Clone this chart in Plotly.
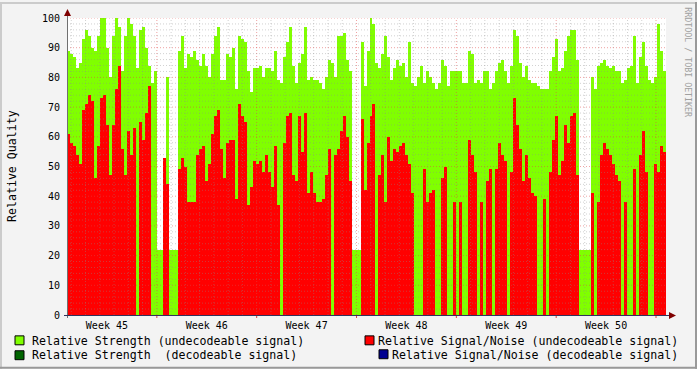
import plotly.graph_objects as go

# ---- data (one sample every 5.04 h, starting at day 0) ----
sample_step_days = 0.21
strength_undec = [
    89, 88, 87, 83, 85, 93, 96, 94, 90, 89,
    94, 100, 100, 90, 80, 94, 100, 97, 82, 94,
    100, 98, 94, 83, 96, 97, 90, 84, 78, 82,
    22, 22, 45,
    80, 22, 22, 22, 89, 94, 83, 88, 87, 89,
    86, 84, 88, 84, 80, 88, 94, 97, 79, 79,
    88, 87, 90, 76, 94, 93, 92, 82, 75, 83,
    83, 84, 80,
    83, 83, 82, 89, 79, 78, 87, 92, 97, 84,
    78, 85, 88, 97, 79, 80, 79, 79, 78, 76,
    80, 86, 85, 80, 94, 94, 95, 86, 82, 22,
    22, 22, 92,
    77, 89, 100, 98, 85, 83, 88, 94, 87, 79,
    83, 86, 84, 85, 80, 92, 78, 77, 80, 84,
    78, 82, 80, 78, 76, 78, 86, 84, 77, 82,
    82, 82, 82,
    78, 78, 89, 88, 78, 79, 78, 82, 82, 76,
    78, 82, 85, 86, 82, 78, 84, 96, 94, 85,
    80, 84, 79, 78, 78, 77, 76, 76, 76, 82,
    87, 93, 82, 83,
    89, 94, 96, 96, 86, 22, 22, 22, 22, 80,
    76, 84, 85, 86, 84, 83, 84, 82, 82, 78,
    79, 83, 84, 94, 78, 87, 92, 84, 79, 78,
    80, 98, 89, 82,
]
snr_undec = [
    61, 58, 57, 54, 51, 69, 71, 74, 72, 46,
    57, 73, 74, 64, 47, 64, 76, 84, 56, 47,
    62, 54, 63, 0, 65, 59, 68, 77, 0, 0,
    0, 0, 53,
    44, 0, 0, 0, 49, 53, 50, 38, 38, 38,
    54, 56, 57, 45, 51, 61, 67, 69, 56, 46,
    58, 59, 59, 39, 71, 67, 65, 37, 43, 52,
    51, 52, 48,
    54, 48, 43, 57, 37, 0, 58, 67, 68, 47,
    45, 67, 55, 68, 41, 48, 41, 38, 38, 39,
    47, 56, 0, 54, 56, 62, 67, 60, 45, 0,
    0, 0, 66,
    42, 58, 67, 71, 0, 47, 54, 38, 60, 52,
    56, 55, 57, 58, 54, 51, 41, 0, 0, 0,
    49, 38, 41, 42, 0, 0, 46, 50, 0, 0,
    38, 0, 38,
    0, 0, 59, 54, 48, 0, 38, 0, 45, 49,
    0, 49, 58, 54, 52, 0, 48, 73, 64, 56,
    45, 54, 46, 41, 40, 0, 0, 39, 0, 48,
    59, 67, 47, 52,
    64, 58, 67, 68, 47, 0, 0, 0, 0, 41,
    0, 38, 54, 58, 56, 54, 51, 47, 45, 0,
    38, 0, 0, 49, 0, 54, 62, 48, 0, 0,
    51, 48, 57, 55,
]
week_labels = ["Week 45", "Week 46", "Week 47", "Week 48", "Week 49", "Week 50"]
week_label_days = [2.8, 9.8, 16.8, 23.8, 30.8, 37.8]
first_day_line = 0.3
n_days = 42
legend_items = [
    ("Relative Strength (undecodeable signal)", "#80ff00"),
    ("Relative Signal/Noise (undecodeable signal)", "#ff0000"),
    ("Relative Strength  (decodeable signal)", "#006400"),
    ("Relative Signal/Noise (decodeable signal)", "#000090"),
]

W, H = 697, 369
L, R, T, B = 67, 31, 16, 54
PW, PH = W - L - R, H - T - B


def px(x):
    return (x - L) / PW


def py(y):
    return (H - B - y) / PH


times = [(i + 0.5) * sample_step_days for i in range(len(strength_undec))]

fig = go.Figure()
fig.add_trace(go.Bar(x=times, y=strength_undec, width=sample_step_days,
                     marker=dict(color="#80ff00", line=dict(width=0)),
                     showlegend=False, hoverinfo="skip"))
fig.add_trace(go.Bar(x=times, y=snr_undec, width=sample_step_days,
                     marker=dict(color="#ff0000", line=dict(width=0)),
                     showlegend=False, hoverinfo="skip"))

shapes = []
# vertical grid (days, weeks major)
for k in range(n_days):
    d = first_day_line + k
    major = (k - 6) % 7 == 0
    shapes.append(dict(type="line", xref="x", yref="y", x0=d, x1=d, y0=0, y1=100,
                       layer="above",
                       line=dict(color="rgba(225,70,70,0.5)" if major else "rgba(140,140,140,0.4)",
                                 width=1, dash="1px,2px")))
    if major:
        shapes.append(dict(type="line", xref="x", yref="paper", x0=d, x1=d,
                           y0=py(315), y1=py(318), line=dict(color="#d04040", width=1)))
# horizontal grid
for v in range(2, 101, 2):
    major = v % 10 == 0
    shapes.append(dict(type="line", xref="paper", yref="y", x0=0, x1=1, y0=v, y1=v,
                       layer="above",
                       line=dict(color="rgba(225,70,70,0.5)" if major else "rgba(140,140,140,0.4)",
                                 width=1, dash="1px,2px")))
# axes lines and arrows
shapes.append(dict(type="line", xref="paper", yref="paper", x0=px(67.5), x1=px(67.5),
                   y0=py(318), y1=py(12), line=dict(color="#707070", width=1)))
shapes.append(dict(type="line", xref="paper", yref="paper", x0=px(64), x1=px(670),
                   y0=py(315.5), y1=py(315.5), line=dict(color="#30305a", width=1)))
shapes.append(dict(type="path", xref="paper", yref="paper",
                   path=f"M {px(64)} {py(14)} L {px(71)} {py(14)} L {px(67.5)} {py(7)} Z",
                   fillcolor="#7f0000", line=dict(width=0)))
shapes.append(dict(type="path", xref="paper", yref="paper",
                   path=f"M {px(669)} {py(312)} L {px(669)} {py(319)} L {px(676)} {py(315.5)} Z",
                   fillcolor="#7f0000", line=dict(width=0)))
# frame (3d shade)
shapes.append(dict(type="rect", xref="paper", yref="paper", x0=px(0), x1=px(W), y0=py(0), y1=py(2),
                   fillcolor="#cbcbcb", line=dict(width=0)))
shapes.append(dict(type="rect", xref="paper", yref="paper", x0=px(0), x1=px(2), y0=py(0), y1=py(H),
                   fillcolor="#cbcbcb", line=dict(width=0)))
shapes.append(dict(type="rect", xref="paper", yref="paper", x0=px(0), x1=px(W), y0=py(H - 2), y1=py(H),
                   fillcolor="#999999", line=dict(width=0)))
shapes.append(dict(type="rect", xref="paper", yref="paper", x0=px(W - 2), x1=px(W), y0=py(0), y1=py(H),
                   fillcolor="#999999", line=dict(width=0)))

annotations = []
mono = "DejaVu Sans Mono"
# legend
leg_pos = [(15, 336, 30, 341, "left"), (365, 336, 680, 341, "right"),
           (15, 351, 30, 355.5, "left"), (379, 350, 680, 355.5, "right")]
for (label, color), (bx, by, tx, ty, anchor) in zip(legend_items, leg_pos):
    shapes.append(dict(type="rect", xref="paper", yref="paper", x0=px(bx), x1=px(bx + 9),
                       y0=py(by), y1=py(by + 9), fillcolor=color, line=dict(color="#000000", width=1)))
    annotations.append(dict(text=label.replace(" ", "&nbsp;"), xref="paper", yref="paper", x=px(tx), y=py(ty),
                            xanchor=anchor, yanchor="middle", showarrow=False,
                            font=dict(family=mono, size=11.6, color="#000000")))
annotations.append(dict(text="Relative Quality", xref="paper", yref="paper", x=px(12), y=py(165),
                        xanchor="center", yanchor="middle", textangle=-90, showarrow=False,
                        font=dict(family=mono, size=11.6, color="#000000")))
annotations.append(dict(text="RRDTOOL / TOBI OETIKER", xref="paper", yref="paper", x=px(688.5), y=py(60),
                        xanchor="center", yanchor="middle", textangle=90, showarrow=False,
                        font=dict(family=mono, size=8.3, color="#a0a0a0")))

fig.update_layout(
    width=W, height=H, margin=dict(l=L, r=R, t=T, b=B, pad=0),
    paper_bgcolor="#f3f3f3", plot_bgcolor="#ffffff",
    barmode="overlay", bargap=0, showlegend=False,
    shapes=shapes, annotations=annotations,
    xaxis=dict(range=[0, n_days], tickvals=week_label_days, ticktext=week_labels,
               showgrid=False, zeroline=False, showline=False, ticks="",
               ticklabelstandoff=3,
               tickfont=dict(family=mono, size=10, color="#000000"), fixedrange=True),
    yaxis=dict(range=[0, 100], tickvals=list(range(0, 101, 10)),
               showgrid=False, zeroline=False, showline=False, ticks="",
               ticklabelstandoff=6,
               tickfont=dict(family=mono, size=10, color="#000000"), fixedrange=True),
)

fig.write_html("out.html")
